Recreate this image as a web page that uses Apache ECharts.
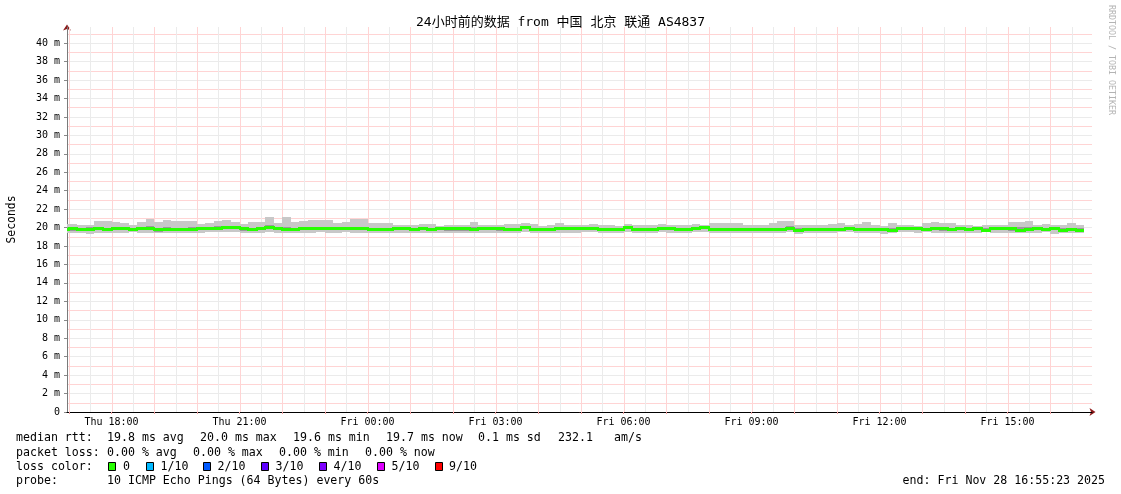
<!DOCTYPE html>
<html>
<head>
<meta charset="utf-8">
<script src="https://cdn.jsdelivr.net/npm/echarts@6/dist/echarts.min.js"></script>
<style>
html,body{margin:0;padding:0;background:#fff;}
#c{width:1121px;height:494px;}
</style>
</head>
<body>
<div id="c"></div>
<script>
// ---------------- data ----------------
const titleText = '24小时前的数据 from 中国 北京 联通 AS4837';
const yAxisName = 'Seconds';
const xTickHours = [18, 21, 24, 27, 30, 33, 36, 39];
const xTickLabels = ['Thu 18:00', 'Thu 21:00', 'Fri 00:00', 'Fri 03:00', 'Fri 06:00', 'Fri 09:00', 'Fri 12:00', 'Fri 15:00'];
const yTickValues = [0, 2, 4, 6, 8, 10, 12, 14, 16, 18, 20, 22, 24, 26, 28, 30, 32, 34, 36, 38, 40];

const segStartHour = 16.8;   // first consolidated point: Thu 16:48
const segHours = 0.2;        // 12 minutes per point

const rttMax = [20.40,
 20.40,20.32,20.30,20.75,20.75,20.60,20.45,20.25,20.55,20.97,
 20.55,20.85,20.70,20.70,20.70,20.40,20.50,20.75,20.85,20.60,
 20.40,20.60,20.60,21.15,20.50,21.15,20.60,20.70,20.80,20.80,
 20.80,20.50,20.60,20.97,20.97,20.45,20.45,20.50,20.30,20.30,
 20.30,20.40,20.40,20.15,20.25,20.25,20.25,20.60,20.25,20.25,
 20.25,20.40,20.40,20.50,20.40,20.15,20.25,20.50,20.25,20.25,
 20.25,20.40,20.25,20.25,20.15,20.40,20.25,20.25,20.25,20.40,
 20.30,20.25,20.25,20.40,20.30,20.50,20.45,20.45,20.45,20.30,
 20.30,
 20.30,20.50,20.75,20.70,20.25,20.25,20.30,20.30,20.40,20.50,
 20.25,20.40,20.55,20.30,20.15,20.45,20.25,20.25,20.15,20.45,
 20.60,20.50,20.50,20.25,20.25,20.15,20.25,20.25,20.25,20.60,
 20.60,20.75,20.25,20.40,20.25,20.30,20.45,20.30];

const rttQ3 = [20.02,
 20.02,20.00,20.05,20.10,19.95,20.10,20.00,19.95,20.05,20.15,
 19.92,20.05,19.95,19.95,20.05,20.08,20.10,20.12,20.18,20.15,
 20.02,19.98,20.05,20.25,20.05,20.10,20.00,20.05,20.08,20.08,
 20.05,20.05,20.10,20.05,20.10,19.95,19.95,19.98,20.02,20.02,
 20.00,20.05,19.95,20.00,20.02,20.00,20.00,20.10,20.00,20.00,
 20.00,20.00,19.98,20.12,20.00,19.95,19.95,20.10,20.02,20.02,
 20.05,20.05,19.95,19.95,20.00,20.15,20.00,20.00,20.00,20.05,
 20.02,20.00,20.00,20.10,20.15,19.95,19.92,19.95,19.95,20.00,
 20.00,
 20.00,20.00,20.00,20.12,19.90,20.00,19.98,19.98,19.95,20.00,
 20.10,19.95,20.00,20.00,19.95,19.95,20.02,20.02,20.02,19.95,
 20.10,20.05,20.00,20.02,19.98,20.02,19.90,20.02,20.00,20.10,
 20.05,20.05,20.02,20.00,20.05,19.92,20.00,19.90];

const rttMedian = [19.82,
 19.85,19.82,19.78,19.85,19.78,19.90,19.85,19.78,19.85,19.90,
 19.75,19.78,19.78,19.78,19.78,19.90,19.92,19.92,20.00,20.00,
 19.85,19.82,19.90,20.00,19.90,19.78,19.82,19.90,19.90,19.90,
 19.90,19.90,19.92,19.90,19.90,19.78,19.78,19.78,19.88,19.88,
 19.82,19.88,19.78,19.88,19.85,19.85,19.85,19.82,19.85,19.85,
 19.85,19.82,19.82,19.98,19.82,19.78,19.78,19.88,19.88,19.88,
 19.90,19.90,19.78,19.75,19.82,20.05,19.82,19.82,19.82,19.88,
 19.88,19.82,19.82,19.95,20.05,19.78,19.75,19.75,19.75,19.82,
 19.82,
 19.82,19.80,19.78,19.95,19.72,19.82,19.80,19.80,19.78,19.82,
 19.95,19.78,19.82,19.80,19.80,19.72,19.88,19.88,19.88,19.78,
 19.88,19.88,19.80,19.88,19.78,19.88,19.72,19.88,19.85,19.85,
 19.72,19.78,19.88,19.82,19.88,19.72,19.80,19.72];

const rttQ1 = [19.68,
 19.68,19.68,19.58,19.70,19.62,19.75,19.70,19.62,19.70,19.72,
 19.55,19.62,19.58,19.58,19.60,19.72,19.78,19.78,19.85,19.82,
 19.68,19.68,19.72,19.85,19.72,19.60,19.68,19.75,19.75,19.75,
 19.72,19.72,19.78,19.75,19.75,19.62,19.58,19.60,19.72,19.72,
 19.65,19.72,19.60,19.72,19.68,19.68,19.68,19.58,19.70,19.70,
 19.68,19.68,19.68,19.85,19.68,19.60,19.62,19.72,19.72,19.72,
 19.75,19.75,19.60,19.58,19.65,19.90,19.65,19.65,19.65,19.72,
 19.72,19.65,19.65,19.82,19.90,19.60,19.58,19.58,19.58,19.65,
 19.65,
 19.68,19.62,19.62,19.80,19.52,19.68,19.62,19.62,19.62,19.70,
 19.80,19.62,19.65,19.62,19.58,19.58,19.72,19.72,19.72,19.60,
 19.72,19.68,19.62,19.70,19.62,19.72,19.55,19.72,19.70,19.68,
 19.55,19.62,19.72,19.65,19.72,19.55,19.62,19.55];

const rttMin = [19.45,
 19.45,19.42,19.35,19.42,19.40,19.45,19.45,19.48,19.42,19.45,
 19.38,19.40,19.40,19.40,19.40,19.45,19.48,19.48,19.50,19.50,
 19.42,19.45,19.45,19.55,19.45,19.38,19.42,19.45,19.45,19.48,
 19.45,19.45,19.48,19.45,19.45,19.40,19.38,19.38,19.45,19.45,
 19.42,19.45,19.40,19.45,19.42,19.42,19.42,19.38,19.45,19.45,
 19.42,19.42,19.45,19.55,19.45,19.40,19.38,19.45,19.45,19.45,
 19.48,19.48,19.42,19.40,19.45,19.55,19.45,19.42,19.42,19.48,
 19.45,19.42,19.42,19.50,19.55,19.40,19.38,19.40,19.40,19.45,
 19.45,
 19.45,19.42,19.42,19.50,19.32,19.45,19.42,19.42,19.42,19.48,
 19.50,19.40,19.42,19.40,19.35,19.45,19.48,19.48,19.42,19.48,
 19.42,19.40,19.45,19.40,19.45,19.38,19.48,19.45,19.45,19.38,
 19.40,19.45,19.45,19.48,19.35,19.42,19.40,19.40];

const rttStats = [19.8, 20.0, 19.6, 19.7];   // avg, max, min, now (ms)
const rttStatNames = ['avg', 'max', 'min', 'now'];
const rttSd = 0.1;
const rttAmS = 232.1;
const lossStats = [0, 0, 0, 0];              // avg, max, min, now (%)
const lossLabels = ['0', '1/10', '2/10', '3/10', '4/10', '5/10', '9/10'];
const lossColors = ['#26ff00', '#00b8ff', '#0059ff', '#5e00ff', '#7e00ff', '#dd00ff', '#ff0000'];
const probeText = '10 ICMP Echo Pings (64 Bytes) every 60s';
const endText = 'end: Fri Nov 28 16:55:23 2025';
const creditText = 'RRDTOOL / TOBI OETIKER';

// ---------------- layout / style ----------------
const MONO = "'DejaVu Sans Mono', 'Noto Sans CJK SC', monospace";
const X_MIN = 16.957, X_MAX = 40.98, Y_MIN = 0, Y_MAX = 41.75;
const RED_GRID = '#ffd4d4', GRAY_GRID = '#ebebeb';
const SMOKE_OUTER = '#c8c8c8', SMOKE_INNER = '#9a9a9a';
const AXIS_RED = '#8b1a1a';

const segT = i => segStartHour + i * segHours;

const gridHours = [];
for (let h = Math.ceil(X_MIN * 2) / 2; h < X_MAX; h += 0.5) gridHours.push(h);
const wholeHours = gridHours.filter(h => Math.abs(h - Math.round(h)) < 1e-6);

function rectItem(params, api, yTopVal, yBotVal, color) {
  const cs = params.coordSys;
  const a = api.coord([api.value(0), yTopVal]);
  const b = api.coord([api.value(1), yBotVal]);
  const x0 = Math.max(Math.round(a[0]), cs.x);
  const x1 = Math.min(Math.round(b[0]), cs.x + cs.width);
  if (x1 <= x0) return null;
  const y0 = Math.round(a[1]), y1 = Math.round(b[1]);
  return { type: 'rect', shape: { x: x0, y: y0, width: x1 - x0, height: Math.max(1, y1 - y0) }, style: { fill: color } };
}

function bandSeries(name, lo, hi, color, z) {
  return {
    type: 'custom', name, z, silent: true, clip: true,
    data: lo.map((v, i) => [segT(i), segT(i + 1), v, hi[i]]),
    encode: { x: [0, 1], y: [2, 3] },
    renderItem: (params, api) => rectItem(params, api, api.value(3), api.value(2), color)
  };
}

const medianSeries = {
  type: 'custom', name: 'median', z: 5, silent: true, clip: true,
  data: rttMedian.map((v, i) => [segT(i), segT(i + 1), v]),
  encode: { x: [0, 1], y: 2 },
  renderItem: (params, api) => {
    const cs = params.coordSys;
    const a = api.coord([api.value(0), api.value(2)]);
    const b = api.coord([api.value(1), api.value(2)]);
    const x0 = Math.max(Math.round(a[0]), cs.x);
    const x1 = Math.min(Math.round(b[0]), cs.x + cs.width);
    if (x1 <= x0) return null;
    const yc = Math.round(a[1] - 1.5);
    const children = [{ type: 'rect', shape: { x: x0, y: yc, width: x1 - x0, height: 3 }, style: { fill: lossColors[0] } }];
    const idx = params.dataIndexInside;
    if (idx > 0) {
      const p = api.coord([api.value(0), api.value(2, idx - 1)]);
      const yp = Math.round(p[1] - 1.5);
      if (Math.abs(yp - yc) > 0) {
        const top = Math.min(yp, yc), bot = Math.max(yp, yc) + 3;
        children.push({ type: 'rect', shape: { x: x0 - 1, y: top, width: 2, height: bot - top }, style: { fill: lossColors[0] } });
      }
    }
    return { type: 'group', children };
  }
};

const vGridSeries = {
  type: 'custom', name: 'vgrid', z: 1, silent: true, clip: true,
  data: gridHours.map(h => [h]),
  encode: { x: 0 },
  renderItem: (params, api) => {
    const cs = params.coordSys;
    const h = api.value(0);
    const p = api.coord([h, Y_MIN]);
    const x = Math.round(p[0]) + 0.5;
    const isHour = Math.abs(h - Math.round(h)) < 1e-6;
    return {
      type: 'line',
      shape: { x1: x, y1: cs.y, x2: x, y2: cs.y + cs.height },
      style: { stroke: isHour ? RED_GRID : GRAY_GRID, fill: null, lineWidth: 1 }
    };
  }
};

// legend texts (rrdtool places every legend item separately)
const f1 = v => v.toFixed(1);
const f2 = v => v.toFixed(2);
const LEG_FONT = '11.6px ' + MONO;
const rowY = [438, 452.5, 466.5, 480.5];
const colX = [107, 200, 293, 386, 478];
const lossColX = [107, 193, 279, 365];
const boxX = [108, 145.5, 202.5, 261, 318.5, 377, 435];
const labX = [123, 160.5, 217.5, 275.5, 333.5, 391.5, 449];

function txt(x, y, s, align) {
  return { type: 'text', x, y, style: { text: s, font: LEG_FONT, fill: '#000', align: align || 'left', verticalAlign: 'middle' } };
}

const graphics = [
  txt(16, rowY[0], 'median rtt:'),
  txt(16, rowY[1], 'packet loss:'),
  txt(16, rowY[2], 'loss color:'),
  txt(16, rowY[3], 'probe:'),
  txt(107, rowY[3], probeText),
  txt(colX[4], rowY[0], f1(rttSd) + ' ms sd'),
  txt(558, rowY[0], f1(rttAmS)),
  txt(614, rowY[0], 'am/s'),
  txt(1105, rowY[3], endText, 'right'),
  { type: 'text', x: 1111, y: 5, rotation: -Math.PI / 2,
    style: { text: creditText, font: '8.3px ' + MONO, fill: '#b4b4b4', align: 'left', verticalAlign: 'middle' } }
];
rttStats.forEach((v, i) => graphics.push(txt(colX[i], rowY[0], f1(v) + ' ms ' + rttStatNames[i])));
lossStats.forEach((v, i) => graphics.push(txt(lossColX[i], rowY[1], f2(v) + ' % ' + rttStatNames[i])));
lossLabels.forEach((lab, i) => {
  graphics.push({ type: 'rect', shape: { x: Math.round(boxX[i]) + 0.5, y: Math.round(rowY[2] - 4.5) + 0.5, width: 7, height: 8 },
    style: { fill: lossColors[i], stroke: '#000', lineWidth: 1 } });
  graphics.push(txt(labX[i], rowY[2], lab));
});

const option = {
  animation: false,
  backgroundColor: '#ffffff',
  textStyle: { fontFamily: MONO },
  title: {
    text: titleText, left: 'center', top: 15, padding: 0,
    textStyle: { fontFamily: MONO, fontSize: 13, fontWeight: 'normal', color: '#000', lineHeight: 16 }
  },
  grid: { left: 67, right: 29, top: 27, bottom: 82, containLabel: false, outerBoundsMode: 'none' },
  xAxis: [
    {
      type: 'value', min: X_MIN, max: X_MAX, position: 'bottom', z: 1,
      axisLine: { show: true, onZero: false, lineStyle: { color: '#000', width: 1 } },
      axisTick: { show: true, length: 2, customValues: wholeHours, lineStyle: { color: '#f0a0a0' } },
      axisLabel: {
        show: true, customValues: xTickHours, margin: 5,
        fontFamily: MONO, fontSize: 10, lineHeight: 10, color: '#000',
        formatter: v => { const k = xTickHours.indexOf(Math.round(v)); return k >= 0 ? xTickLabels[k] : ''; }
      },
      splitLine: { show: false }
    },
    {
      type: 'value', min: X_MIN, max: X_MAX, position: 'bottom', z: 0,
      axisLine: { show: true, onZero: false, symbol: ['none', 'arrow'], symbolSize: [6, 6], symbolOffset: [0, 3.5],
        lineStyle: { color: AXIS_RED, width: 1 } },
      axisTick: { show: false }, axisLabel: { show: false }, splitLine: { show: false }
    }
  ],
  yAxis: [
    {
      type: 'value', min: Y_MIN, max: Y_MAX, interval: 1, position: 'left', z: 1,
      name: yAxisName, nameLocation: 'middle', nameRotate: 90, nameGap: 49, nameMoveOverlap: false,
      nameTextStyle: { fontFamily: MONO, fontSize: 11.4, color: '#000' },
      axisLine: { show: true, onZero: false, lineStyle: { color: '#7a7a7a', width: 1 } },
      axisTick: { show: false }, axisLabel: { show: false },
      splitLine: { show: true, showMinLine: false, showMaxLine: false,
        lineStyle: { color: [RED_GRID, GRAY_GRID], width: 1, type: 'solid' } }
    },
    {
      type: 'value', min: Y_MIN, max: Y_MAX, position: 'left', z: 0,
      axisLine: { show: true, onZero: false, symbol: ['none', 'arrow'], symbolSize: [6, 6], symbolOffset: [0, 2.5],
        lineStyle: { color: AXIS_RED, width: 1 } },
      axisTick: { show: true, length: 3, customValues: yTickValues, lineStyle: { color: '#8a8a8a' } },
      axisLabel: {
        show: true, customValues: yTickValues, margin: 7,
        fontFamily: MONO, fontSize: 10, color: '#000',
        formatter: v => (v === 0 ? '0' : v + ' m')
      },
      splitLine: { show: false }
    }
  ],
  series: [
    vGridSeries,
    bandSeries('smoke outer', rttMin, rttMax, SMOKE_OUTER, 2),
    bandSeries('smoke inner', rttQ1, rttQ3, SMOKE_INNER, 3),
    medianSeries
  ],
  graphic: graphics
};

const chart = echarts.init(document.getElementById('c'), null, { renderer: 'canvas' });
chart.setOption(option);
</script>
</body>
</html>
